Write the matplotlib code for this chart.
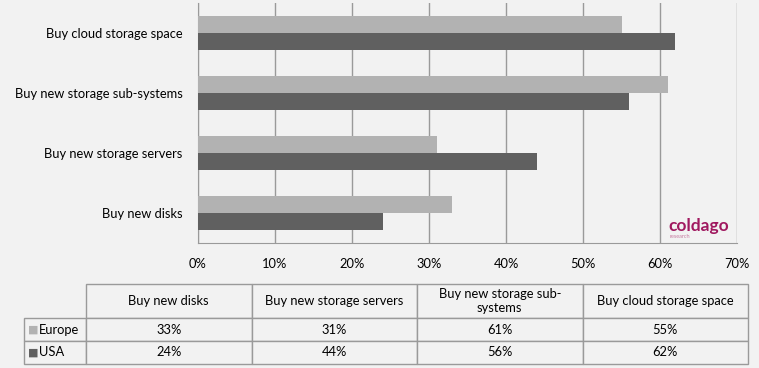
import matplotlib.pyplot as plt
import numpy as np

plt.rcParams['font.family'] = ['Lato', 'DejaVu Sans']

# data
categories = ['Buy new disks', 'Buy new storage servers',
              'Buy new storage sub-systems', 'Buy cloud storage space']
table_headers = ['Buy new disks', 'Buy new storage servers',
                 'Buy new storage sub-\nsystems', 'Buy cloud storage space']
europe = [33, 31, 61, 55]
usa = [24, 44, 56, 62]
series = ['Europe', 'USA']
xticks = [0, 10, 20, 30, 40, 50, 60, 70]

bg = '#f2f2f2'
col_eu = '#b2b2b2'
col_us = '#606060'
line_col = '#9a9a9a'
fontsize = 9.3

W, H = 759, 368
fig = plt.figure(figsize=(W / 100, H / 100), dpi=100, facecolor=bg)

#-----------------------------------------------------------------------------------------------------------------------
# Bar chart
ax = fig.add_axes([198 / W, 1 - 243 / H, (737 - 198) / W, (243 - 3) / H])
ax.set_facecolor(bg)

y = np.arange(len(categories))
h = 0.29
ax.barh(y + h / 2, europe, h, color=col_eu, zorder=3)
ax.barh(y - h / 2, usa, h, color=col_us, zorder=3)

ax.set_xlim(0, 70)
ax.set_ylim(-0.5, 3.5)
ax.set_xticks(xticks, [f'{t}%' for t in xticks], fontsize=fontsize)
ax.set_yticks(y, categories, fontsize=fontsize)
ax.tick_params(axis='both', length=0)
ax.tick_params(axis='x', pad=11)
ax.tick_params(axis='y', pad=11)
ax.grid(axis='x', color=line_col, linewidth=1, zorder=0)
for s in ['top', 'right']:
    ax.spines[s].set_visible(False)
for s in ['left', 'bottom']:
    ax.spines[s].set_color(line_col)

# logo
ax.text(0.873, 0.052, 'coldago', transform=ax.transAxes, color='#a0185f',
        fontsize=12.5, fontweight='bold', ha='left', va='baseline')
ax.text(0.875, 0.022, 'research', transform=ax.transAxes, color='#c77aa0',
        fontsize=4, ha='left', va='baseline')

#-----------------------------------------------------------------------------------------------------------------------
# Data table
tax = fig.add_axes([24 / W, 1 - 364 / H, (748 - 24) / W, (364 - 284) / H])
tax.axis('off')

cell_text = [[''] + [f'{v}%' for v in europe], [''] + [f'{v}%' for v in usa]]
tbl = tax.table(cellText=cell_text, colLabels=[''] + table_headers,
                cellLoc='center', bbox=[0, 0, 1, 1])
tbl.auto_set_font_size(False)
tbl.set_fontsize(fontsize)

total_w = 748 - 24
for (r, c), cell in tbl.get_celld().items():
    cell.set_edgecolor(line_col)
    cell.set_facecolor(bg)
    cell.set_linewidth(1)
    cell.set_width((62 if c == 0 else 165.5) / total_w)
    cell.set_height((34 if r == 0 else 23) / 80)
tbl[0, 0].visible_edges = ''

# legend keys in row labels
for i, (name, col) in enumerate(zip(series, [col_eu, col_us])):
    yc = (23 * (1 - i) + 11.5) / 80
    tax.text(4 / total_w, yc, '\u25a0', color=col, fontsize=8,
             ha='left', va='center', transform=tax.transAxes,
             family='DejaVu Sans')
    tax.text(15 / total_w, yc, name, fontsize=fontsize,
             ha='left', va='center', transform=tax.transAxes)

plt.savefig('out.png', dpi=100, facecolor=bg)
plt.close()
